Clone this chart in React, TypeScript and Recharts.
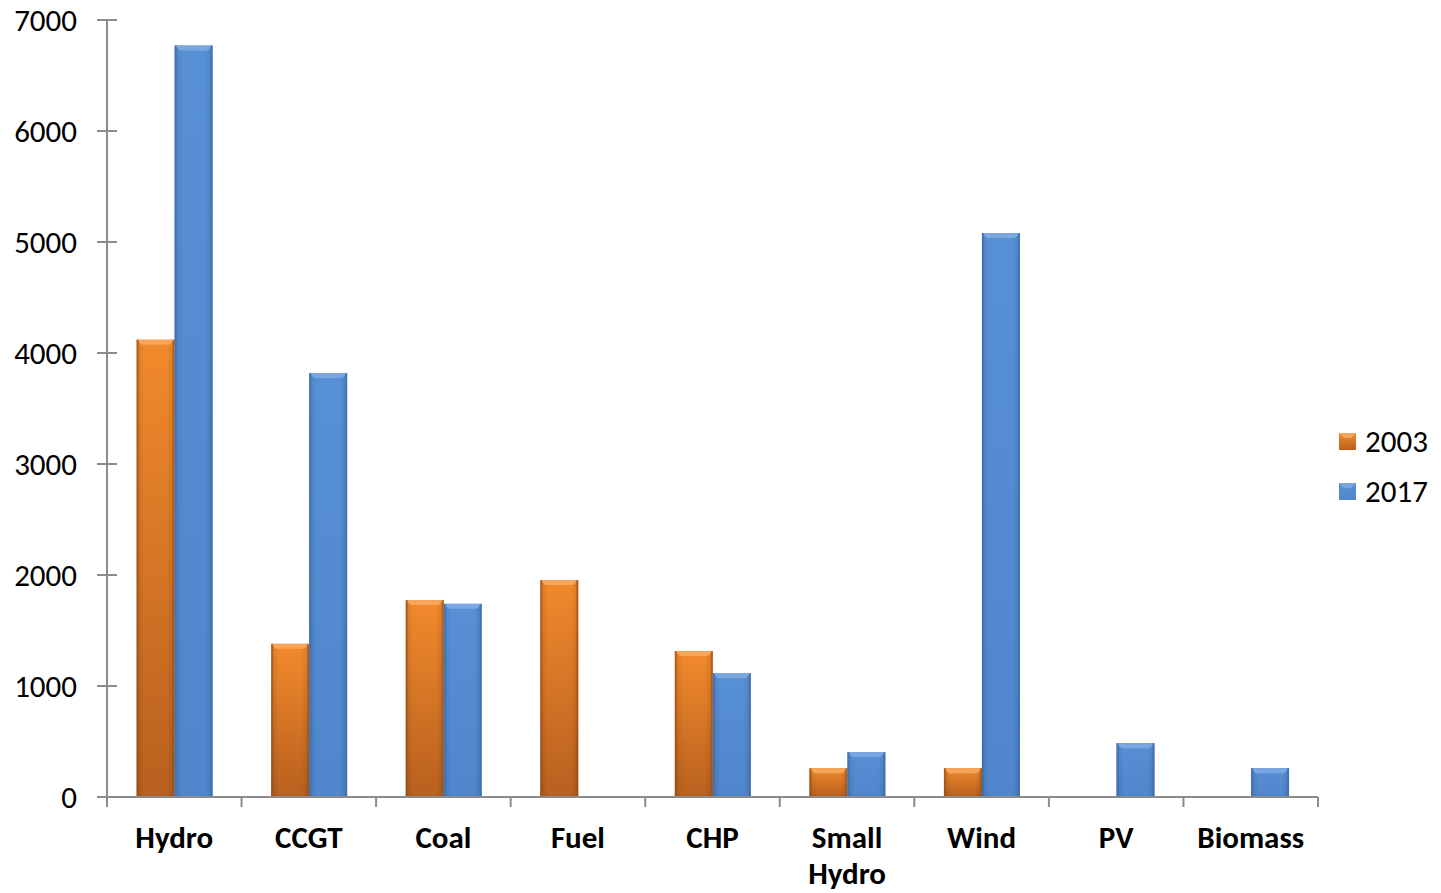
import React from 'react';
import { BarChart, Bar, XAxis, YAxis } from 'recharts';

const categories = ['Hydro', 'CCGT', 'Coal', 'Fuel', 'CHP', 'Small Hydro', 'Wind', 'PV', 'Biomass'];
const values2003 = [4120, 1380, 1775, 1955, 1315, 260, 260, 0, 0];
const values2017 = [6770, 3820, 1740, 0, 1115, 405, 5080, 485, 260];
const yTicks = [0, 1000, 2000, 3000, 4000, 5000, 6000, 7000];

const data = categories.map((name, i) => ({
  name,
  y2003: values2003[i],
  y2017: values2017[i],
}));

const W = 1441;
const H = 893;
const PLOT_LEFT = 107;
const PLOT_RIGHT = 1318;
const PLOT_TOP = 20;
const PLOT_BOTTOM = 797;
const BAND = (PLOT_RIGHT - PLOT_LEFT) / categories.length;
const FONT = 'Carlito, Lato, "Open Sans", sans-serif';
const AXIS = '#8c8c8c';

// bevelled bar, vertical gradient plus lighter top edge
const BevelBar = (props: any) => {
  const { x, y, width, height, gradId, edge, top } = props;
  if (!height || height <= 0) return null;
  const b = Math.min(5, height / 2);
  return (
    <g>
      <rect x={x} y={y} width={width} height={height} fill={`url(#${gradId})`} />
      <rect x={x} y={y} width={width} height={height} fill="url(#sideShade)" />
      <polygon
        points={`${x},${y} ${x + width},${y} ${x + width - b},${y + b} ${x + b},${y + b}`}
        fill={top}
      />
      <rect x={x} y={y} width={2} height={height} fill={edge} opacity={0.6} />
      <rect x={x + width - 2} y={y} width={2} height={height} fill={edge} opacity={0.6} />
    </g>
  );
};

const OrangeBar = (props: any) => (
  <BevelBar {...props} gradId="orangeGrad" edge="#9a4e14" top="#f7a55a" />
);
const BlueBar = (props: any) => (
  <BevelBar {...props} gradId="blueGrad" edge="#3d6aa6" top="#7ba7e0" />
);

const YTick = ({ y, payload }: any) => (
  <g>
    <line x1={PLOT_LEFT - 10} x2={PLOT_LEFT + 10} y1={y} y2={y} stroke={AXIS} strokeWidth={2} />
    <text x={77} y={y} dy={11} textAnchor="end" fontSize={31} fill="#000" fontFamily={FONT}>
      {payload.value}
    </text>
  </g>
);

const XTick = ({ x, payload, index }: any) => {
  const lines = String(payload.value).split(' ');
  return (
    <g>
      {index === 0 && (
        <line x1={x - BAND / 2} x2={x - BAND / 2} y1={PLOT_BOTTOM} y2={PLOT_BOTTOM + 10} stroke={AXIS} strokeWidth={2} />
      )}
      <line x1={x + BAND / 2} x2={x + BAND / 2} y1={PLOT_BOTTOM} y2={PLOT_BOTTOM + 10} stroke={AXIS} strokeWidth={2} />
      {lines.map((l, i) => (
        <text
          key={i}
          x={x}
          y={PLOT_BOTTOM + 51 + i * 36}
          textAnchor="middle"
          fontSize={31}
          fontWeight="bold"
          fill="#000"
          fontFamily={FONT}
        >
          {l}
        </text>
      ))}
    </g>
  );
};

const LegendSwatch = ({ from, to, top }: { from: string; to: string; top: string }) => (
  <svg width={17} height={17} style={{ display: 'block' }}>
    <defs>
      <linearGradient id={`lg${from}`} x1="0" y1="0" x2="0" y2="1">
        <stop offset="0" stopColor={from} />
        <stop offset="1" stopColor={to} />
      </linearGradient>
    </defs>
    <rect x={0} y={0} width={17} height={17} fill={`url(#lg${from})`} />
    <polygon points="0,0 17,0 12,5 5,5" fill={top} />
  </svg>
);

export default function App() {
  return (
    <div style={{ position: 'absolute', left: 0, top: 0, width: W, height: H, background: '#fff', fontFamily: FONT }}>
      <BarChart
        width={W}
        height={H}
        data={data}
        margin={{ top: PLOT_TOP, right: W - PLOT_RIGHT, bottom: 0, left: 0 }}
        barCategoryGap="22%"
        barGap={0}
      >
        <defs>
          <linearGradient id="orangeGrad" x1="0" y1="0" x2="0" y2="1">
            <stop offset="0" stopColor="#f28a2c" />
            <stop offset="1" stopColor="#b8601f" />
          </linearGradient>
          <linearGradient id="blueGrad" x1="0" y1="0" x2="0" y2="1">
            <stop offset="0" stopColor="#5890d6" />
            <stop offset="1" stopColor="#4f86cc" />
          </linearGradient>
          <linearGradient id="sideShade" x1="0" y1="0" x2="1" y2="0">
            <stop offset="0" stopColor="#000" stopOpacity={0.12} />
            <stop offset="0.2" stopColor="#000" stopOpacity={0} />
            <stop offset="0.8" stopColor="#000" stopOpacity={0} />
            <stop offset="1" stopColor="#000" stopOpacity={0.12} />
          </linearGradient>
        </defs>
        <YAxis
          width={PLOT_LEFT}
          domain={[0, 7000]}
          ticks={yTicks}
          interval={0}
          axisLine={{ stroke: AXIS, strokeWidth: 2 }}
          tickLine={false}
          tick={<YTick />}
        />
        <XAxis
          dataKey="name"
          height={H - PLOT_BOTTOM}
          interval={0}
          axisLine={{ stroke: AXIS, strokeWidth: 2 }}
          tickLine={false}
          tick={<XTick />}
        />
        <Bar dataKey="y2003" fill="#f28a2c" shape={<OrangeBar />} isAnimationActive={false} />
        <Bar dataKey="y2017" fill="#5890d6" shape={<BlueBar />} isAnimationActive={false} />
      </BarChart>
      <div style={{ position: 'absolute', left: 1339, top: 416, fontSize: 31, lineHeight: '50px' }}>
        <div style={{ display: 'flex', alignItems: 'center', gap: 9 }}>
          <LegendSwatch from="#f28a2c" to="#b8601f" top="#f7a55a" />
          <span>2003</span>
        </div>
        <div style={{ display: 'flex', alignItems: 'center', gap: 9 }}>
          <LegendSwatch from="#5890d6" to="#4f86cc" top="#7ba7e0" />
          <span>2017</span>
        </div>
      </div>
    </div>
  );
}
